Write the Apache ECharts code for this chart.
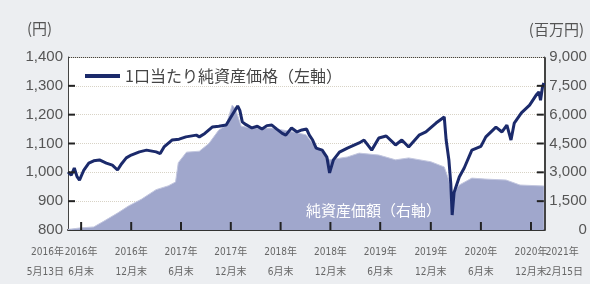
<!DOCTYPE html>
<html>
<head>
<meta charset="utf-8">
<script src="https://cdn.jsdelivr.net/npm/echarts@6/dist/echarts.min.js"></script>
<style>
  html, body { margin: 0; padding: 0; background: #eceef1; }
  #chart { width: 590px; height: 284px; }
</style>
</head>
<body>
<div id="chart"></div>
<script>
// 1口当たり純資産価格 (円, left axis)
const navDates = [
  '2016-05-13', '2016-05-25', '2016-06-05', '2016-06-15', '2016-06-24', '2016-07-10', '2016-07-28',
  '2016-08-15', '2016-09-05', '2016-09-30', '2016-10-22', '2016-11-10', '2016-11-25', '2016-12-12',
  '2016-12-30', '2017-01-29', '2017-02-24', '2017-03-31', '2017-04-15', '2017-04-29', '2017-05-28',
  '2017-06-23', '2017-07-18', '2017-08-25', '2017-09-05', '2017-09-25', '2017-10-22', '2017-11-15',
  '2017-12-12', '2018-01-03', '2018-01-23', '2018-01-31', '2018-02-09', '2018-02-18', '2018-03-16',
  '2018-04-05', '2018-04-22', '2018-05-10', '2018-05-28', '2018-06-15', '2018-07-05', '2018-07-18',
  '2018-08-08', '2018-08-28', '2018-09-15', '2018-10-02', '2018-10-12', '2018-10-24', '2018-11-06',
  '2018-11-28', '2018-12-15', '2018-12-25', '2019-01-08', '2019-01-30', '2019-02-28', '2019-04-12',
  '2019-04-30', '2019-05-28', '2019-06-23', '2019-07-20', '2019-08-23', '2019-09-15', '2019-10-10',
  '2019-11-17', '2019-12-12', '2020-01-18', '2020-02-17', '2020-02-24', '2020-03-05', '2020-03-12',
  '2020-03-17', '2020-03-24', '2020-04-12', '2020-04-30', '2020-05-28', '2020-06-30', '2020-07-18',
  '2020-08-24', '2020-09-15', '2020-10-03', '2020-10-18', '2020-10-30', '2020-11-25', '2020-12-25',
  '2021-01-18', '2021-01-28', '2021-02-03', '2021-02-10', '2021-02-15'
]
const navValues = [
  1001, 990, 1015, 985, 973, 1008, 1032,
  1040, 1043, 1032, 1025, 1008, 1030, 1050,
  1060, 1071, 1077, 1071, 1065, 1088, 1112,
  1115, 1123, 1129, 1123, 1135, 1157, 1160,
  1164, 1199, 1230, 1215, 1175, 1168, 1154,
  1160, 1150, 1162, 1164, 1150, 1135, 1129,
  1154, 1140, 1147, 1150, 1129, 1112, 1084,
  1077, 1053, 998, 1043, 1070, 1084, 1102,
  1112, 1077, 1119, 1126, 1095, 1112, 1088,
  1129, 1140, 1171, 1192, 1112, 1043, 960,
  852, 930, 984, 1015, 1077, 1090, 1123,
  1157, 1140, 1164, 1112, 1171, 1206, 1233,
  1268, 1279, 1250, 1295, 1310
]

// 純資産価額 (百万円, right axis)
const aumDates = [
  '2016-05-13', '2016-06-22', '2016-08-15', '2016-09-20', '2016-11-10', '2016-12-20', '2017-02-05',
  '2017-03-31', '2017-05-15', '2017-06-10', '2017-06-20', '2017-07-20', '2017-09-05', '2017-10-10',
  '2017-11-15', '2017-12-12', '2018-01-03', '2018-01-15', '2018-02-05', '2018-03-16', '2018-05-28',
  '2018-08-15', '2018-09-30', '2018-10-24', '2018-11-28', '2018-12-25', '2019-02-28', '2019-04-12',
  '2019-06-23', '2019-08-23', '2019-10-10', '2019-12-30', '2020-02-17', '2020-03-05', '2020-03-17',
  '2020-04-12', '2020-05-28', '2020-07-15', '2020-09-30', '2020-11-20', '2021-02-15'
]
const aumValues = [
  30, 100, 160, 450, 880, 1250, 1600,
  2100, 2300, 2500, 3500, 4050, 4100, 4500,
  5200, 5450, 6500, 6300, 5400, 5300, 5300,
  5100, 4950, 4500, 4050, 3650, 3800, 4000,
  3900, 3650, 3750, 3550, 3280, 2600, 1820,
  2340, 2700, 2650, 2600, 2340, 2290
]

const tickDates = [
  '2016-06-30', '2016-12-30', '2017-06-30', '2017-12-29', '2018-06-29',
  '2018-12-28', '2019-06-28', '2019-12-30', '2020-06-30', '2020-12-30'
]
const tickTexts = [
  '2016年\n6月末', '2016年\n12月末', '2017年\n6月末', '2017年\n12月末', '2018年\n6月末',
  '2018年\n12月末', '2019年\n6月末', '2019年\n12月末', '2020年\n6月末', '2020年\n12月末'
]
const startDate = '2016-05-13'
const endDate = '2021-02-15'
const startText = '2016年\n5月13日'
const endText = '2021年\n2月15日'
const leftTicks = [900, 1000, 1100, 1200, 1300]
const rightTicks = [1500, 3000, 4500, 6000, 7500]

const toTime = s => Date.UTC(+s.slice(0, 4), +s.slice(5, 7) - 1, +s.slice(8, 10))
const labelMap = {}
tickDates.forEach((d, i) => { labelMap[toTime(d)] = tickTexts[i] })
labelMap[toTime(startDate)] = startText
labelMap[toTime(endDate)] = endText

const chart = echarts.init(document.getElementById('chart'))
const fmt = v => v.toLocaleString('en-US')
const cjk = '"Noto Sans CJK JP", "Noto Sans", sans-serif'
const num = '"Liberation Sans", "Noto Sans CJK JP", sans-serif'
const narrow = '"Liberation Sans Narrow", "DejaVu Sans Condensed", "Noto Sans CJK JP", sans-serif'

const gridBox = { left: 68, right: 45, top: 57, bottom: 54 }

const xLabel = {
  formatter: v => labelMap[v] || '',
  margin: 12, lineHeight: 20, fontSize: 10,
  fontFamily: narrow, color: '#666', hideOverlap: false
}

// inward tick marks, drawn as thin rect symbols so they sit above the area fill
const tickSeries = (data, yIdx, size, offset) => ({
  type: 'scatter',
  xAxisIndex: 0,
  yAxisIndex: yIdx,
  silent: true,
  clip: false,
  z: 6,
  symbol: 'rect',
  symbolSize: size,
  symbolOffset: offset,
  itemStyle: { color: '#222', opacity: 1 },
  data: data
})

const option = {
  backgroundColor: '#eceef1',
  animation: false,
  grid: gridBox,
  legend: {
    data: ['1口当たり純資産価格（左軸）'],
    left: 80, top: 63,
    icon: 'rect', itemWidth: 35, itemHeight: 4,
    textStyle: { fontFamily: cjk, fontSize: 16, color: '#444' }
  },
  graphic: [
    {
      // white plot panel behind the series
      type: 'rect', left: gridBox.left, top: gridBox.top, z: -10,
      shape: { width: 590 - gridBox.left - gridBox.right, height: 284 - gridBox.top - gridBox.bottom },
      style: { fill: '#ffffff', stroke: '#444', lineWidth: 1 }
    },
    { type: 'text', left: 27, top: 21, style: { text: '(円)', font: '15px ' + cjk, fill: '#555' } },
    { type: 'text', right: 6, top: 22, style: { text: '(百万円)', font: '15px ' + cjk, fill: '#555' } },
    { type: 'text', left: 306, top: 203, z: 10, style: { text: '純資産価額（右軸）', font: '15px ' + cjk, fill: '#ffffff' } }
  ],
  xAxis: [
    {
      type: 'value',
      min: toTime(startDate),
      max: toTime(endDate),
      axisLine: { show: true, lineStyle: { color: '#333', width: 2 } },
      axisTick: { show: false },
      axisLabel: Object.assign({ customValues: tickDates.map(toTime) }, xLabel),
      splitLine: { show: false }
    },
    {
      type: 'value',
      position: 'bottom',
      min: toTime(startDate),
      max: toTime(endDate),
      axisLine: { show: false },
      axisTick: { show: false },
      axisLabel: Object.assign({
        customValues: [toTime(startDate), toTime(endDate)],
        showMinLabel: true, showMaxLabel: true,
        alignMinLabel: 'right', alignMaxLabel: 'left'
      }, xLabel, { padding: [0, 4, 0, 2] }),
      splitLine: { show: false }
    }
  ],
  yAxis: [
    {
      type: 'value', min: 800, max: 1400, interval: 100,
      axisLine: { show: true, lineStyle: { color: '#444' } },
      axisTick: { show: false },
      axisLabel: { formatter: fmt, fontSize: 15, fontFamily: num, color: '#555', margin: 5 },
      splitLine: { show: true, lineStyle: { color: '#d8d3c6', type: 'dotted', width: 1 } }
    },
    {
      type: 'value', min: 0, max: 9000, interval: 1500,
      axisLine: { show: true, lineStyle: { color: '#444' } },
      axisTick: { show: false },
      axisLabel: { formatter: fmt, fontSize: 15, fontFamily: num, color: '#555', align: 'right', margin: 43 },
      splitLine: { show: false }
    }
  ],
  series: [
    {
      name: '純資産価額（右軸）',
      type: 'line',
      yAxisIndex: 1,
      data: aumDates.map((d, i) => [toTime(d), aumValues[i]]),
      symbol: 'none',
      lineStyle: { width: 1, color: '#c3c7df' },
      areaStyle: { color: '#a0a7cc', opacity: 1 },
      z: 1
    },
    {
      name: '1口当たり純資産価格（左軸）',
      type: 'line',
      yAxisIndex: 0,
      data: navDates.map((d, i) => [toTime(d), navValues[i]]),
      symbol: 'none',
      lineStyle: { width: 3, color: '#1b2a6b' },
      itemStyle: { color: '#1b2a6b' },
      z: 3
    },
    tickSeries(tickDates.map(d => [toTime(d), 800]), 0, [2, 8], [0, -4]),
    tickSeries(leftTicks.map(v => [toTime(startDate), v]), 0, [7, 2], [3.5, 0]),
    tickSeries(rightTicks.map(v => [toTime(endDate), v]), 1, [7, 2], [-3.5, 0])
  ]
}

chart.setOption(option)
</script>
</body>
</html>
